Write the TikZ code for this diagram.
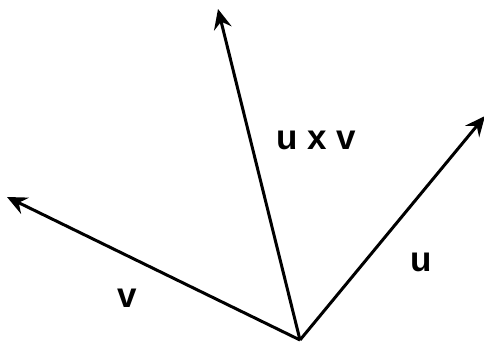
\documentclass[tikz,border=0pt]{standalone}
\usepackage{fontspec}
\setmainfont{Liberation Sans}
\usetikzlibrary{arrows.meta}
\begin{document}
\begin{tikzpicture}[x=1pt,y=-1pt,
  vec/.style={line width=3pt,-{Stealth[length=20pt,width=18pt,inset=7pt]}},
  lbl/.style={font=\fontsize{35}{40}\selectfont\bfseries,inner sep=0pt}]
\useasboundingbox (0,0) rectangle (484,342);
\coordinate (o) at (300,340);
\coordinate (v) at (7,197);
\coordinate (uxv) at (218,9);
\coordinate (u) at (485,116);
\draw[vec] (o) -- (v);
\draw[vec] (o) -- (uxv);
\draw[vec] (o) -- (u);
\node[lbl] (luxv) at (316,140) {u x v};
\node[lbl] (lu) at (421,262) {u};
\node[lbl] (lv) at (127,298) {v};
\end{tikzpicture}
\end{document}
